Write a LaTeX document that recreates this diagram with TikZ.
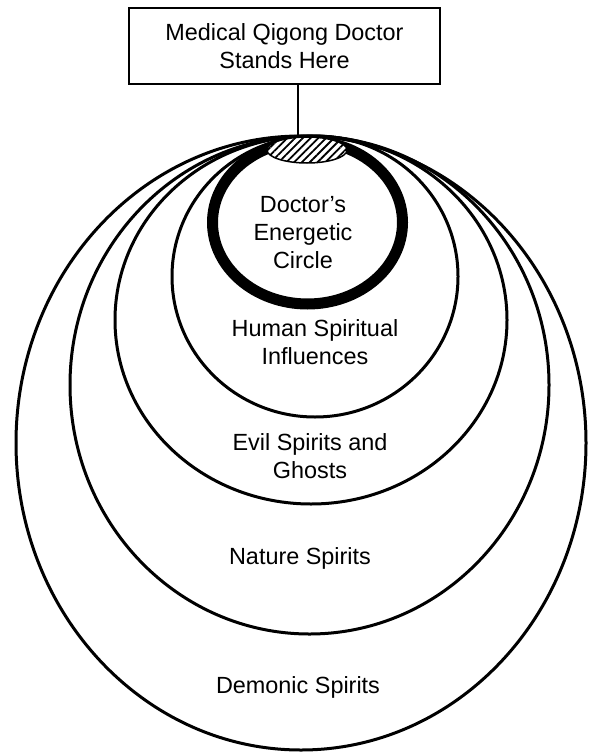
\documentclass[tikz,border=0pt]{standalone}
\usepackage{fontspec}
\setmainfont{Liberation Sans}
\usetikzlibrary{patterns.meta,shapes.geometric}
\tikzset{
  ring/.style={line width=3bp},
  zonetext/.style={align=center, inner sep=0pt, font=\fontsize{23.5}{28}\selectfont},
}

\begin{document}
\begin{tikzpicture}[x=1bp,y=-1bp]
\useasboundingbox (0,0) rectangle (594,752);
	% nested spheres, outermost first
	\draw[ring] (301,443) ellipse [x radius=285, y radius=307];
	\draw[ring] (309.5,385) ellipse [x radius=239.5, y radius=249];
	\draw[ring] (311,320) ellipse [x radius=196, y radius=184];
	\draw[ring] (315,276.5) ellipse [x radius=143, y radius=140.5];
	\draw[line width=11bp] (307.5,222.5) ellipse [x radius=95, y radius=81.5];
	\node[ellipse, draw, line width=1.5bp, inner sep=0pt,
	      minimum width=80bp, minimum height=26bp,
	      preaction={fill=white},
	      pattern={Lines[angle=45, distance=5.5bp, line width=1.8bp]}] (spot) at (307,150) {};
	\coordinate (stand) at (298,136);
	\node[zonetext, draw, line width=2bp, minimum width=311bp, minimum height=76bp] (doctor) at (284.5,46) {Medical Qigong Doctor\\Stands Here};
	\draw[line width=2bp] (doctor.south -| stand) -- (stand);
	\node[zonetext] (energetic) at (303,232.5) {Doctor’s\\Energetic\\Circle};
	\node[zonetext] (human) at (315,342.5) {Human Spiritual\\Influences};
	\node[zonetext] (evil) at (310,456.5) {Evil Spirits and\\Ghosts};
	\node[zonetext] (nature) at (300,558) {Nature Spirits};
	\node[zonetext] (demonic) at (298,687) {Demonic Spirits};
\end{tikzpicture}
\end{document}
